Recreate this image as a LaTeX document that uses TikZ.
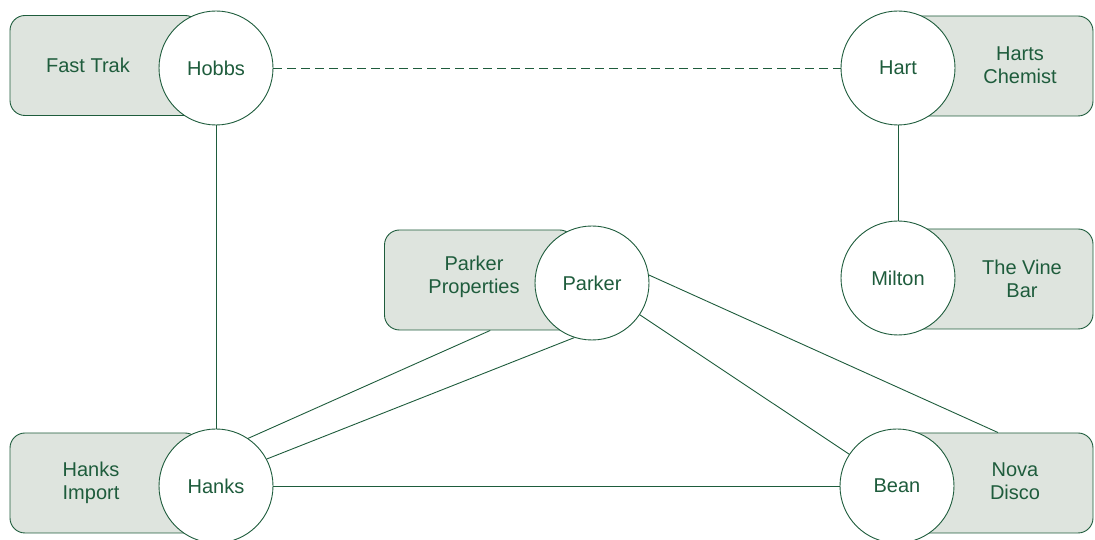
\documentclass[tikz,border=0pt]{standalone}
\usepackage{fontspec}
\setmainfont{Liberation Sans}
\usepackage{tikz}
\definecolor{dkgreen}{RGB}{30,92,60}
\definecolor{palegreen}{RGB}{222,228,222}

\begin{document}
\begin{tikzpicture}[x=1pt,y=1pt,
  orgbox/.style={draw=dkgreen,fill=palegreen,rounded corners=15pt,line width=0.9pt,
    minimum width=190pt,minimum height=100pt,inner sep=0pt},
  person/.style={circle,draw=dkgreen,fill=white,line width=0.9pt,minimum size=114pt,
    inner sep=0pt,text=dkgreen,font=\fontsize{20}{24}\selectfont},
  orgname/.style={text=dkgreen,align=center,font=\fontsize{20}{23.5}\selectfont},
  link/.style={dkgreen,line width=0.9pt},
  weak/.style={link,dash pattern=on 9pt off 5pt}]
\useasboundingbox (0,0) rectangle (1095,540);
% companies
\node[orgbox] (ftbox) at (105,474.5) {};
\node[orgbox] (hcbox) at (998,474) {};
\node[orgbox] (ppbox) at (479.5,260) {};
\node[orgbox] (vbbox) at (998,261) {};
\node[orgbox] (hibox) at (105,57) {};
\node[orgbox] (ndbox) at (998,57) {};
\node[orgname] (ft) at (88,475) {Fast Trak};
\node[orgname] (hc) at (1020,475) {Harts\\Chemist};
\node[orgname] (pp) at (474,263) {Parker\\Properties};
\node[orgname] (vb) at (1022,261) {The Vine\\Bar};
\node[orgname] (hi) at (91,57) {Hanks\\Import};
\node[orgname] (nd) at (1015,59) {Nova\\Disco};
% people
\node[person] (hobbs) at (216,472) {Hobbs};
\node[person] (hart) at (898,472) {Hart};
\node[person] (parker) at (592,257) {Parker};
\node[person] (milton) at (898,262) {Milton};
\node[person] (hanks) at (216,54) {Hanks};
\node[person] (bean) at (897,54) {Bean};
% links
\draw[weak] (hobbs) -- (hart);
\draw[link] (hobbs) -- (hanks);
\draw[link] (hart) -- (milton);
\draw[link] (hanks) -- (bean);
\draw[link] (parker) -- (bean);
\draw[link] (parker.8) -- (ndbox.north);
\draw[link] (ppbox.-78) -- (hanks.56);
\draw[link] (parker.252) -- (hanks.28);
\end{tikzpicture}
\end{document}
